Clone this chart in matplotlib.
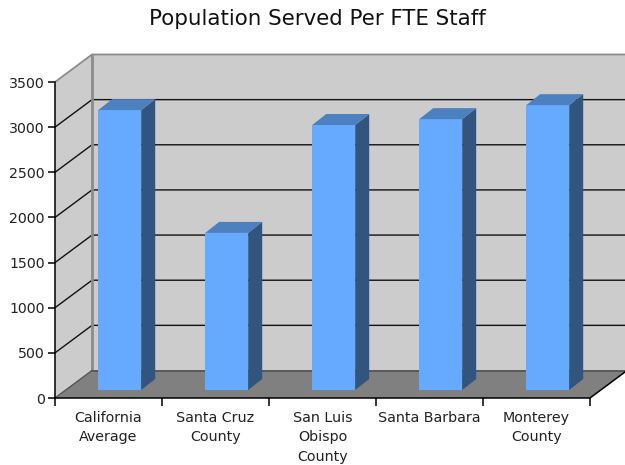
import matplotlib
matplotlib.use('Agg')
import matplotlib.pyplot as plt
from matplotlib.patches import Polygon

categories = ['California\nAverage', 'Santa Cruz\nCounty', 'San Luis\nObispo\nCounty',
              'Santa Barbara', 'Monterey\nCounty']
values = [3100, 1740, 2935, 3000, 3155]
yticks = [0, 500, 1000, 1500, 2000, 2500, 3000, 3500]

W, H = 625, 465
fig = plt.figure(figsize=(W / 100, H / 100), dpi=100)
# front axis box is 55..590 px wide, 82..398 px down
ax = fig.add_axes([55 / W, 1 - 398 / H, 535 / W, 316 / H])
ax.set_xlim(0, 5)
ax.set_ylim(0, 3500)
ax.patch.set_visible(False)

# depth of the fake 3d box in data units
ux = 5 / 535
uy = 3500 / 316
dx = 37 * ux
dy = 27.5 * uy
# depth of a bar
bdx = 14 * ux
bdy = 11 * uy
bar_w = 43 * ux
shift_x = 11.2 * ux
shift_y = 8 * uy

wall = '#cccccc'
edge = '#8c8c8c'

# walls
ax.add_patch(Polygon([(dx, dy), (5 + dx, dy), (5 + dx, 3500 + dy), (dx, 3500 + dy)],
                     fc=wall, ec='none', clip_on=False, zorder=1))
ax.add_patch(Polygon([(0, 0), (dx, dy), (dx, 3500 + dy), (0, 3500)],
                     fc=wall, ec='none', clip_on=False, zorder=1))
# floor
ax.add_patch(Polygon([(0, 0), (5, 0), (5 + dx, dy), (dx, dy)],
                     fc='#808080', ec='none', clip_on=False, zorder=1))

# grid lines
for v in yticks[1:-1]:
    ax.plot([0, dx, 5 + dx], [v, v + dy, v + dy], color='#111111', lw=1, clip_on=False, zorder=2)
ax.plot([0, dx, 5 + dx], [3500, 3500 + dy, 3500 + dy], color=edge, lw=1.3, clip_on=False, zorder=2)
ax.plot([dx, dx], [dy, 3500 + dy], color=edge, lw=2, clip_on=False, zorder=2)
ax.plot([dx, 5 + dx], [dy, dy], color='#555555', lw=1.3, clip_on=False, zorder=2)
ax.plot([0, dx], [0, dy], color='#555555', lw=1, clip_on=False, zorder=2)
ax.plot([5, 5 + dx], [0, dy], color='black', lw=1.1, clip_on=False, zorder=2)

# bars
for i, v in enumerate(values):
    x0 = i + 0.5 + shift_x - bar_w / 2
    x1 = x0 + bar_w
    ax.bar(x0, v, width=bar_w, bottom=shift_y, align='edge', color='#66aaff', zorder=3, clip_on=False)
    top = v + shift_y
    ax.add_patch(Polygon([(x1, shift_y), (x1 + bdx, shift_y + bdy), (x1 + bdx, top + bdy), (x1, top)],
                         fc='#31557f', ec='none', clip_on=False, zorder=3))
    ax.add_patch(Polygon([(x0, top), (x1, top), (x1 + bdx, top + bdy), (x0 + bdx, top + bdy)],
                         fc='#4c80bf', ec='none', clip_on=False, zorder=3))

for s in ['top', 'right']:
    ax.spines[s].set_visible(False)
for s in ['left', 'bottom']:
    ax.spines[s].set_linewidth(1.1)
    ax.spines[s].set_zorder(4)

ax.set_yticks(yticks)
ax.tick_params(axis='y', length=5, width=1.1, pad=2.5, labelsize=10.2, labelcolor='#222222')
ax.set_xticks(range(6))
ax.set_xticklabels([])
ax.tick_params(axis='x', which='major', length=6, width=1.1)
ax.set_xticks([i + 0.5 for i in range(5)], minor=True)
ax.set_xticklabels(categories, minor=True, fontsize=10.3, color='#222222', linespacing=1.5)
ax.tick_params(axis='x', which='minor', length=0, pad=9)

fig.text(317 / W, 1 - 19 / H, 'Population Served Per FTE Staff', ha='center', va='center',
         fontsize=15.4, color='#111111')

fig.savefig('out.png', dpi=100)
